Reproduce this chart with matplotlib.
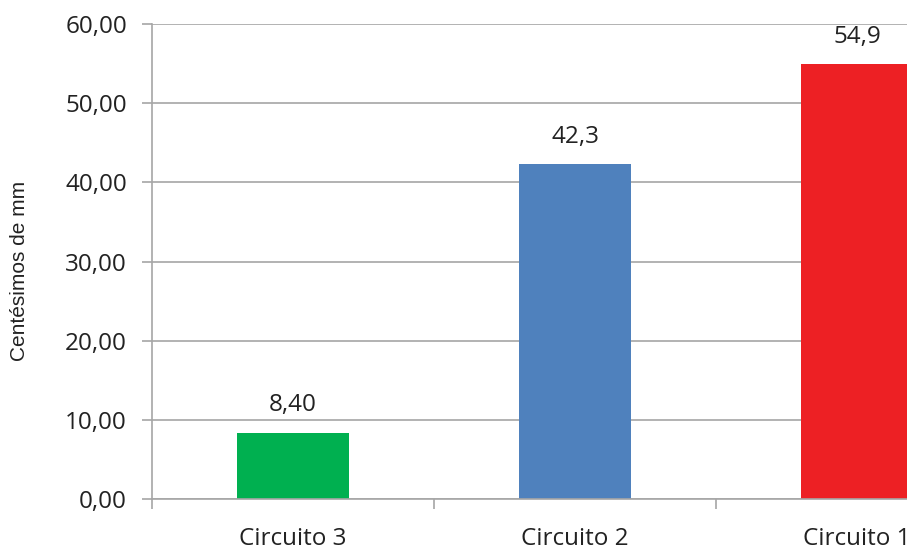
import matplotlib
matplotlib.use("Agg")
import matplotlib.pyplot as plt

categories = ["Circuito 3", "Circuito 2", "Circuito 1"]
values = [8.40, 42.3, 54.9]
value_labels = ["8,40", "42,3", "54,9"]
bar_colors = ["#00B050", "#4F81BD", "#ED2024"]
y_ticks = [0, 10, 20, 30, 40, 50, 60]
y_tick_labels = ["0,00", "10,00", "20,00", "30,00", "40,00", "50,00", "60,00"]

W, H = 907, 555
fig = plt.figure(figsize=(W / 100, H / 100), dpi=100)
# plot area runs past the right edge of the canvas
ax = fig.add_axes([152 / W, 56 / H, 846 / W, 475 / H])

grid_color = "#A6A6A6"
text_color = "#222222"
tick_font = "Open Sans"
tick_size = 17.5

x = list(range(len(categories)))
bars = ax.bar(x, values, width=0.4, color=bar_colors, zorder=3)
ax.bar_label(bars, labels=value_labels, padding=11, fontsize=tick_size,
             family=tick_font, color=text_color)

ax.set_xlim(-0.5, len(categories) - 0.5)
ax.set_ylim(0, 60)
ax.set_yticks(y_ticks)
ax.set_yticklabels(y_tick_labels, family=tick_font, fontsize=tick_size, color=text_color)
ax.yaxis.grid(True, color=grid_color, linewidth=1.2, zorder=0)

# category boundaries as tick marks, names centred between them
ax.set_xticks([i - 0.5 for i in range(len(categories) + 1)])
ax.set_xticklabels([])
ax.set_xticks(x, minor=True)
ax.set_xticklabels(categories, minor=True, family=tick_font, fontsize=tick_size,
                   color=text_color)
ax.tick_params(axis="x", which="major", length=7, width=1.2, color=grid_color,
               direction="out")
ax.tick_params(axis="x", which="minor", length=0, pad=20)
ax.tick_params(axis="y", length=7, width=1.2, color=grid_color, direction="out",
               pad=11)

for side in ("top", "right"):
    ax.spines[side].set_visible(False)
for side in ("left", "bottom"):
    ax.spines[side].set_color(grid_color)
    ax.spines[side].set_linewidth(1.2)
    ax.spines[side].set_zorder(4)

fig.text(20 / W, 1 - 271 / H, "Centésimos de mm", rotation=90, ha="center",
         va="center", family="Liberation Sans", fontsize=15, color=text_color)

fig.savefig("out.png", dpi=100)
